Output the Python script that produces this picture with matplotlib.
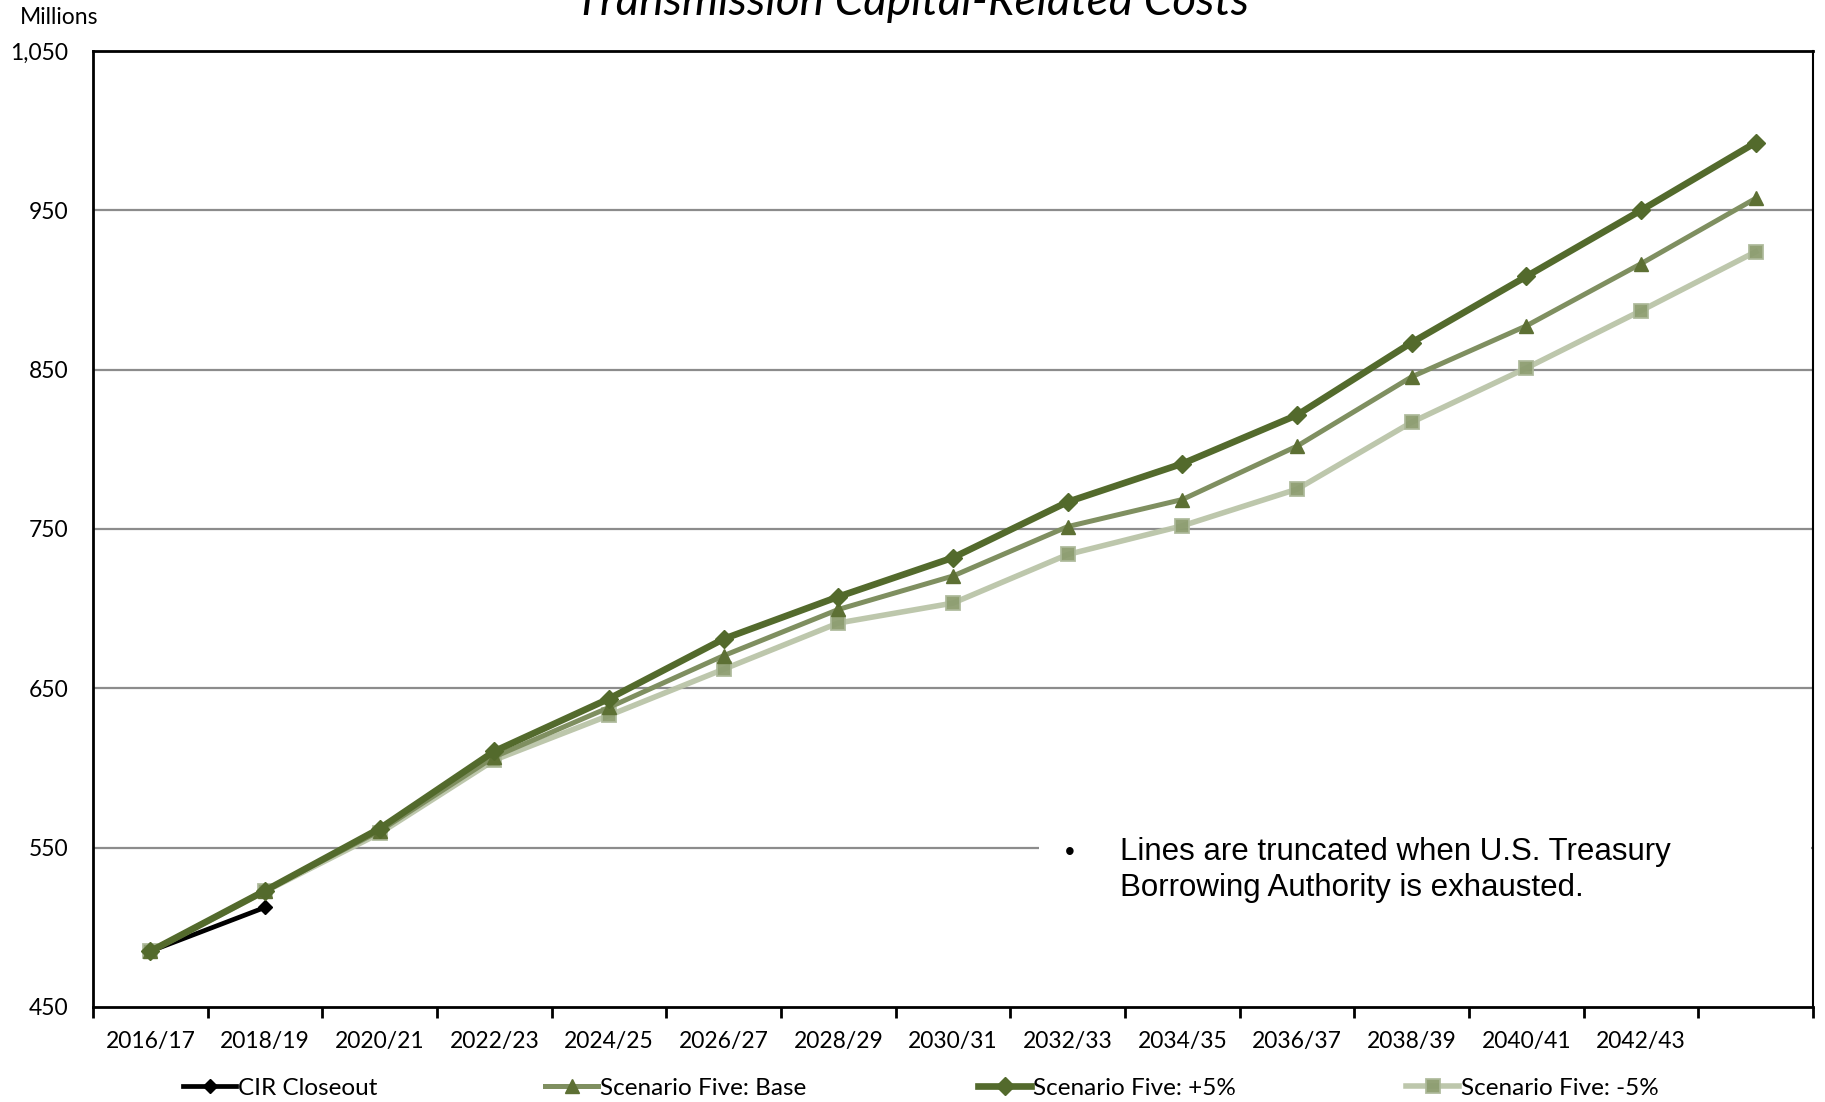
import numpy as np
import matplotlib
matplotlib.use("Agg")
import matplotlib.pyplot as plt
from matplotlib.patches import Rectangle
import matplotlib.transforms as mtransforms

plt.rcParams['font.family'] = ['Lato', 'DejaVu Sans']

# Fiscal years (every other year) and cost series, $ millions
tick_labels = ['2016/17', '2018/19', '2020/21', '2022/23', '2024/25', '2026/27',
               '2028/29', '2030/31', '2032/33', '2034/35', '2036/37', '2038/39',
               '2040/41', '2042/43', '']
cir_closeout = [485, 512.5]
base = [485, 523, 560.5, 607, 638, 670.5, 699.5, 720.5, 751.5, 768.5, 802,
        845.5, 877.5, 916.5, 957.5]
plus5 = [485, 523, 562, 610.5, 643.5, 681, 707.5, 732, 767, 791, 821.5,
         867, 908.5, 950, 992.5]
minus5 = [485, 522.5, 559, 605, 633, 662, 691, 703.5, 734, 752, 775,
          817, 851, 887, 924]
y_ticks = [450, 550, 650, 750, 850, 950, 1050]

DARK = '#536a2c'
MID = '#7f8f60'
LIGHT = '#bac4a8'
LABEL_SIZE = 16.5

fig = plt.figure(figsize=(18.25, 11.02), dpi=100)
ax = fig.add_axes([93 / 1825, 1 - 1007 / 1102, 1720 / 1825, 956 / 1102])

x = np.arange(len(tick_labels))

l_cir, = ax.plot(x[:len(cir_closeout)], cir_closeout, color='black', lw=3.4,
                 marker='D', ms=7.5, zorder=2, label='CIR Closeout')
l_minus, = ax.plot(x, minus5, color=LIGHT, lw=4, marker='s', ms=9.5,
                   mfc='#8d9d70', mec='#adb99a', mew=1.3, alpha=0.95, zorder=3,
                   label='Scenario Five: -5%')
l_base, = ax.plot(x, base, color=MID, lw=3.6, marker='^', ms=10,
                  mfc='#5d7034', mec='#5d7034', zorder=4, label='Scenario Five: Base')
l_plus, = ax.plot(x, plus5, color=DARK, lw=4.8, marker='D', ms=9.5,
                  mfc=DARK, mec=DARK, zorder=5, label='Scenario Five: +5%')

ax.set_xlim(-0.5, len(tick_labels) - 0.5)
ax.set_ylim(450, 1050)

# horizontal gridlines
for v in y_ticks[1:-1]:
    ax.axhline(v, color='#8c8c8c', lw=1.6, zorder=0.5)

# note box hides the gridline behind it
trans = mtransforms.blended_transform_factory(ax.transAxes, ax.transData)
ax.add_patch(Rectangle((0.55, 515), 0.449, 75, transform=trans,
                       facecolor='white', edgecolor='none', zorder=1))
note_font = ['Liberation Sans', 'DejaVu Sans']
ax.text(0.565, 0.154, '\u2022', transform=ax.transAxes, fontsize=20,
        family=note_font, va='baseline', ha='left', zorder=6)
ax.text(0.597, 0.154, 'Lines are truncated when U.S. Treasury',
        transform=ax.transAxes, fontsize=22.5, family=note_font,
        va='baseline', ha='left', zorder=6)
ax.text(0.597, 0.116, 'Borrowing Authority is exhausted.',
        transform=ax.transAxes, fontsize=22.5, family=note_font,
        va='baseline', ha='left', zorder=6)

# axes frame
for side in ['left', 'bottom', 'top']:
    ax.spines[side].set_linewidth(2)
ax.spines['right'].set_linewidth(1.5)

ax.set_yticks(y_ticks)
ax.set_yticklabels([f'{v:,}' for v in y_ticks], fontsize=LABEL_SIZE)
ax.tick_params(axis='y', length=0, pad=18)

ax.set_xticks(x)
ax.set_xticklabels(tick_labels, fontsize=LABEL_SIZE)
ax.set_xticks(np.arange(len(tick_labels) + 1) - 0.5, minor=True)
ax.tick_params(axis='x', which='major', length=0, pad=17)
ax.tick_params(axis='x', which='minor', length=8, width=2, direction='out')

fig.text(20 / 1825, 1 - 17 / 1102, 'Millions', fontsize=LABEL_SIZE, va='center', ha='left')
fig.text(0.5, 1 - 15 / 1102, 'Transmission Capital-Related Costs', fontsize=33,
         style='italic', va='baseline', ha='center')

# one legend entry per slot along the bottom
legend_x = [183, 545, 978, 1406]
for h, lx in zip([l_cir, l_base, l_plus, l_minus], legend_x):
    fig.legend(handles=[h], labels=[h.get_label()], loc='center left',
               bbox_to_anchor=(lx / 1825, 1 - 1088 / 1102), frameon=False,
               fontsize=LABEL_SIZE + 1, handlelength=2.2, handletextpad=0.05,
               borderpad=0, borderaxespad=0)

fig.savefig('out.png', dpi=100)
